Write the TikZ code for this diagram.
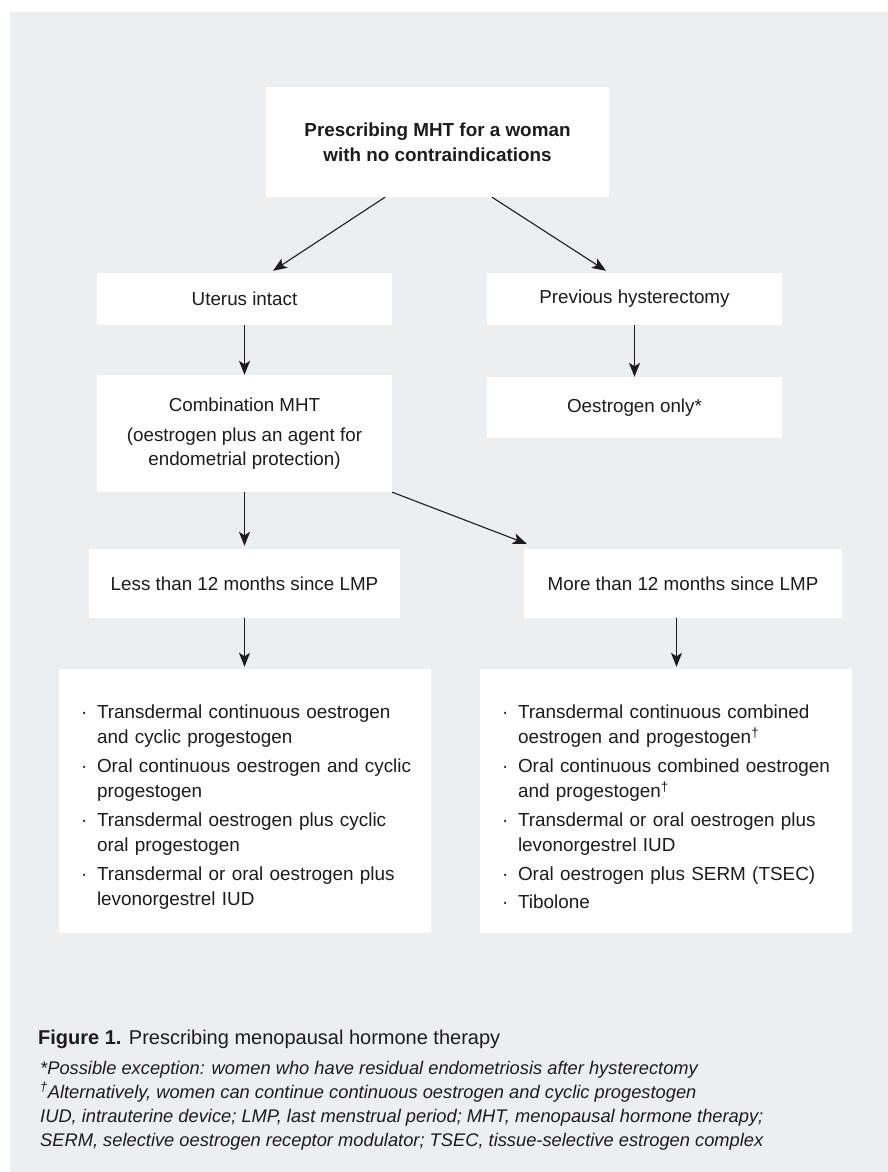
\documentclass[tikz,border=0pt]{standalone}
\usepackage{fontspec}
\setmainfont{Liberation Sans}
\usepackage{enumitem}
\usetikzlibrary{arrows.meta}
\definecolor{bggray}{RGB}{237,238,240}
\definecolor{ink}{RGB}{28,28,30}
\newcommand{\dagmark}{\textsuperscript{†}}
\newlist{druglist}{itemize}{1}
\setlist[druglist]{nosep, itemsep=3.4pt, leftmargin=24pt, labelsep=0pt, labelwidth=16pt, align=left, label=·}
\tikzset{box/.style={fill=white, inner sep=0pt, align=center, text=ink, font=\fontsize{18.8}{24}\selectfont},
  listbox/.style={fill=white, inner xsep=14pt, inner ysep=0pt, text width=344pt, minimum height=264pt, align=left, text=ink, font=\fontsize{18.9}{25.3}\selectfont},
  note/.style={anchor=base west, inner sep=0pt, text=ink, font=\itshape\fontsize{18.3}{22}\selectfont},
  arr/.style={draw=ink, line width=1.1pt, -{Stealth[length=14pt,width=11pt,inset=3.5pt]}}}

\begin{document}
\begin{tikzpicture}[x=1pt,y=-1pt]
   \useasboundingbox (0,0) rectangle (888,1172);
   \fill[white] (0,0) rectangle (888,1172);
   \fill[bggray] (10,12) rectangle (888,1172);

   \node[box, minimum width=343pt, minimum height=110pt, font=\bfseries\fontsize{18.85}{25}\selectfont] (start) at (437.5,142) {Prescribing MHT for a woman\\with no contraindications};
   \node[box, minimum width=295pt, minimum height=52pt] (uterus) at (244.5,299) {Uterus intact};
   \node[box, minimum width=295pt, minimum height=52pt] (prev) at (634.5,299) {Previous hysterectomy};
   \node[box, minimum width=295pt, minimum height=117pt] (combo) at (244.5,433.5) {Combination MHT\\[6pt](oestrogen plus an agent for\\endometrial protection)};
   \node[box, minimum width=295pt, minimum height=61pt] (oest) at (634.5,407.5) {Oestrogen only*};
   \node[box, minimum width=311pt, minimum height=69pt] (less) at (244.5,583.5) {Less than 12 months since LMP};
   \node[box, minimum width=318pt, minimum height=69pt] (more) at (683,583.5) {More than 12 months since LMP};

   \node[listbox] (lesslist) at (245,801) {%
     \begin{druglist}
       \item Transdermal continuous oestrogen\\and cyclic progestogen
       \item Oral continuous oestrogen and cyclic\\progestogen
       \item Transdermal oestrogen plus cyclic\\oral progestogen
       \item Transdermal or oral oestrogen plus\\levonorgestrel IUD
     \end{druglist}};
   \node[listbox] (morelist) at (666,801) {%
     \begin{druglist}
       \item Transdermal continuous combined\\oestrogen and progestogen\dagmark
       \item Oral continuous combined oestrogen\\and progestogen\dagmark
       \item Transdermal or oral oestrogen plus\\levonorgestrel IUD
       \item Oral oestrogen plus SERM (TSEC)
       \item Tibolone
     \end{druglist}};

   \draw[arr] ([xshift=-52.5pt]start.south) -- ([xshift=28.5pt,yshift=2pt]uterus.north);
   \draw[arr] ([xshift=54.5pt]start.south) -- ([xshift=-28.5pt,yshift=2pt]prev.north);
   \draw[arr] (uterus) -- (combo);
   \draw[arr] (prev) -- (oest);
   \draw[arr, shorten >=3pt] (combo) -- (less);
   \draw[arr] (combo.south east) -- ([xshift=3pt,yshift=5pt]more.north west);
   \draw[arr, shorten >=2pt] (less) -- (less |- lesslist.north);
   \coordinate (mdrop) at ([xshift=-6.5pt]more.south);
   \draw[arr, shorten >=2pt] (mdrop) -- (mdrop |- morelist.north);

   \node[anchor=base west, inner sep=0pt, text=ink, font=\fontsize{20}{24}\selectfont] (fig) at (38,1044) {\textbf{Figure 1.} Prescribing menopausal hormone therapy};
   \node[note] (note1) at (40,1074) {*Possible exception: women who have residual endometriosis after hysterectomy};
   \node[note] (note2) at (40,1098) {\dagmark Alternatively, women can continue continuous oestrogen and cyclic progestogen};
   \node[note] (note3) at (40,1122) {IUD, intrauterine device; LMP, last menstrual period; MHT, menopausal hormone therapy;};
   \node[note] (note4) at (40,1146) {SERM, selective oestrogen receptor modulator; TSEC, tissue-selective estrogen complex};
\end{tikzpicture}
\end{document}
